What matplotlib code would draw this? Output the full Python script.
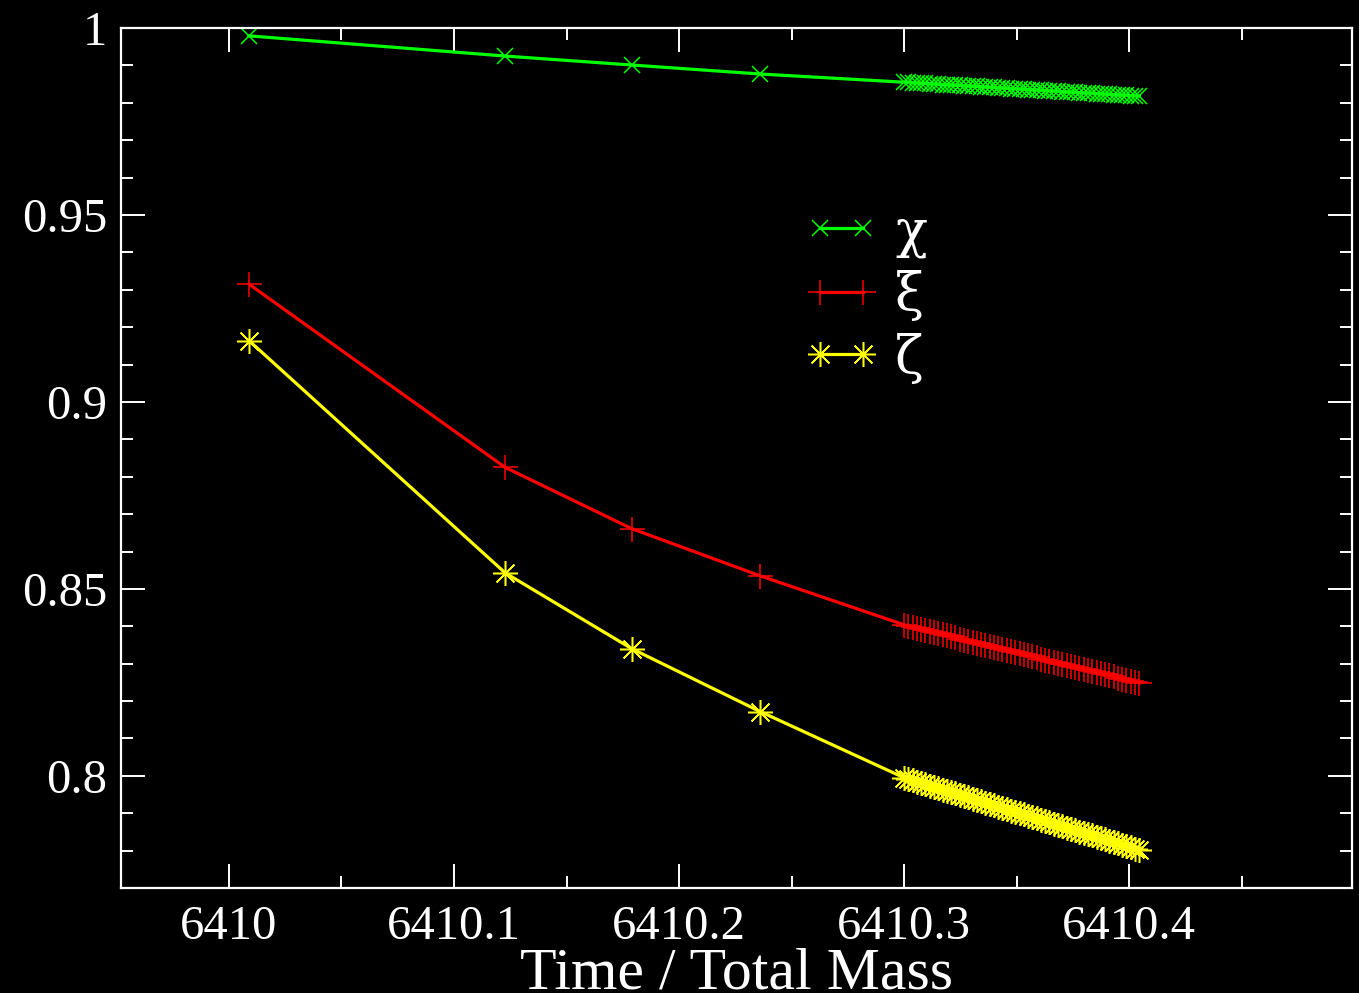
import matplotlib
matplotlib.use("Agg")
import matplotlib.pyplot as plt
from matplotlib.ticker import MultipleLocator, FixedLocator

plt.rcParams['font.family'] = ['Liberation Serif', 'DejaVu Serif']

time = [6410.0089, 6410.1227, 6410.1790, 6410.2360,
        6410.3000, 6410.3019, 6410.3038, 6410.3057, 6410.3076, 6410.3095, 6410.3114, 6410.3133,
        6410.3152, 6410.3171, 6410.3190, 6410.3209, 6410.3228, 6410.3247, 6410.3266, 6410.3285,
        6410.3304, 6410.3323, 6410.3342, 6410.3361, 6410.3380, 6410.3399, 6410.3418, 6410.3437,
        6410.3456, 6410.3475, 6410.3494, 6410.3513, 6410.3532, 6410.3551, 6410.3570, 6410.3589,
        6410.3608, 6410.3627, 6410.3646, 6410.3665, 6410.3684, 6410.3703, 6410.3722, 6410.3741,
        6410.3760, 6410.3779, 6410.3798, 6410.3817, 6410.3836, 6410.3855, 6410.3874, 6410.3893,
        6410.3912, 6410.3931, 6410.3950, 6410.3969, 6410.3988, 6410.4007, 6410.4026, 6410.4045]

chi = [0.9979, 0.9925, 0.9901, 0.9877,
       0.98550, 0.98543, 0.98537, 0.98530, 0.98523, 0.98516, 0.98510, 0.98503,
       0.98496, 0.98489, 0.98483, 0.98476, 0.98469, 0.98463, 0.98456, 0.98449,
       0.98442, 0.98436, 0.98429, 0.98422, 0.98415, 0.98409, 0.98402, 0.98395,
       0.98388, 0.98382, 0.98375, 0.98368, 0.98362, 0.98355, 0.98348, 0.98341,
       0.98335, 0.98328, 0.98321, 0.98314, 0.98308, 0.98301, 0.98294, 0.98288,
       0.98281, 0.98274, 0.98267, 0.98261, 0.98254, 0.98247, 0.98240, 0.98234,
       0.98227, 0.98220, 0.98213, 0.98207, 0.98200, 0.98193, 0.98187, 0.98180]

xi = [0.9315, 0.8825, 0.8661, 0.8535,
      0.84040, 0.84012, 0.83984, 0.83955, 0.83927, 0.83899, 0.83871, 0.83843,
      0.83814, 0.83786, 0.83758, 0.83730, 0.83702, 0.83673, 0.83645, 0.83617,
      0.83589, 0.83561, 0.83532, 0.83504, 0.83476, 0.83448, 0.83420, 0.83391,
      0.83363, 0.83335, 0.83307, 0.83279, 0.83250, 0.83222, 0.83194, 0.83166,
      0.83138, 0.83109, 0.83081, 0.83053, 0.83025, 0.82997, 0.82968, 0.82940,
      0.82912, 0.82884, 0.82856, 0.82827, 0.82799, 0.82771, 0.82743, 0.82715,
      0.82686, 0.82658, 0.82630, 0.82602, 0.82574, 0.82545, 0.82517, 0.82489]

zeta = [0.9164, 0.8543, 0.8340, 0.8172,
        0.79950, 0.79915, 0.79880, 0.79845, 0.79810, 0.79775, 0.79739, 0.79704,
        0.79669, 0.79634, 0.79599, 0.79564, 0.79529, 0.79494, 0.79459, 0.79424,
        0.79388, 0.79353, 0.79318, 0.79283, 0.79248, 0.79213, 0.79178, 0.79143,
        0.79108, 0.79073, 0.79037, 0.79002, 0.78967, 0.78932, 0.78897, 0.78862,
        0.78827, 0.78792, 0.78757, 0.78722, 0.78686, 0.78651, 0.78616, 0.78581,
        0.78546, 0.78511, 0.78476, 0.78441, 0.78406, 0.78371, 0.78335, 0.78300,
        0.78265, 0.78230, 0.78195, 0.78160, 0.78125, 0.78090, 0.78055, 0.78020]

labels = ['χ', 'ξ', 'ζ']
x_ticks = [6410.0, 6410.1, 6410.2, 6410.3, 6410.4]
x_ticklabels = ['6410', '6410.1', '6410.2', '6410.3', '6410.4']
y_ticks = [0.8, 0.85, 0.9, 0.95, 1.0]
y_ticklabels = ['0.8', '0.85', '0.9', '0.95', '1']

fig = plt.figure(figsize=(13.59, 9.93), dpi=100, facecolor='black')
ax = fig.add_axes([0.0890, 0.1057, 0.9058, 0.8661], facecolor='black')

lw = 2.3
ax.plot(time, chi, color='#00ff00', lw=lw, marker='x', ms=12, mew=1.1, label=labels[0])
ax.plot(time, xi, color='#ff0000', lw=lw, marker='+', ms=18, mew=1.1, label=labels[1])
ax.plot(time, zeta, color='#ffff00', lw=lw, marker=(8, 2, 0), ms=18, mew=1.1, label=labels[2])

ax.set_xlim(6409.952, 6410.499)
ax.set_ylim(0.77, 1.0)

ax.xaxis.set_major_locator(FixedLocator(x_ticks))
ax.set_xticklabels(x_ticklabels)
ax.xaxis.set_minor_locator(FixedLocator([6409.95, 6410.05, 6410.15, 6410.25, 6410.35, 6410.45]))
ax.yaxis.set_major_locator(FixedLocator(y_ticks))
ax.set_yticklabels(y_ticklabels)
ax.yaxis.set_minor_locator(MultipleLocator(0.01))

for s in ax.spines.values():
    s.set_color('white')
    s.set_linewidth(1.6)

ax.tick_params(which='both', direction='in', top=True, right=True, colors='white',
               labelsize=35, width=1.4)
ax.tick_params(which='major', length=17)
ax.tick_params(which='minor', length=8.5)
ax.tick_params(axis='x', which='major', pad=12)
ax.tick_params(axis='y', which='major', pad=10)

ax.set_xlabel('Time / Total Mass', color='white', fontsize=43, labelpad=-1)

leg = ax.legend(loc='upper left', bbox_to_anchor=(0.555, 0.792), frameon=False,
                prop={'family': ['DejaVu Serif'], 'size': 38},
                handlelength=1.42, handletextpad=0.3, labelspacing=0.22,
                borderpad=0, borderaxespad=0, numpoints=2)
for t in leg.get_texts():
    t.set_color('white')

fig.savefig('out.png', dpi=100, facecolor='black')
